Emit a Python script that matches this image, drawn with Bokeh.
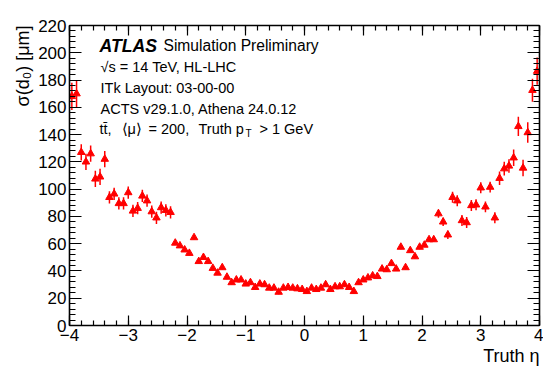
import numpy as np
from bokeh.plotting import figure
from bokeh.models import (ColumnDataSource, Range1d, FixedTicker, LinearAxis, Label,
                          CustomLabelingPolicy, Title)
from bokeh.embed import file_html
from bokeh.resources import INLINE

# ---- data -----------------------------------------------------------------
bin_low = -4.0
bin_width = 0.08
n_bins = 100
eta = [round(bin_low + bin_width * (i + 0.5), 3) for i in range(n_bins)]

sigma_d0 = [168, 170, 127, 120, 126, 107.5, 109, 122, 94, 96.5,
            89.5, 89.5, 97.5, 84, 86, 95, 91.5, 83.5, 79, 86.5,
            84.5, 83, 60.5, 58.5, 55.5, 53, 64.5, 47, 50, 47,
            42, 38.5, 42.5, 35.5, 31.5, 33.5, 33.5, 30.5, 31.5, 28,
            30.5, 30, 27.5, 27.5, 24.5, 27.5, 28, 27.5, 27, 26.5,
            25, 27.5, 26.5, 27.5, 30, 26.5, 28.5, 28.5, 30, 28,
            25, 31.5, 33.5, 35, 36.5, 36, 41.5, 41, 45.5, 41.5,
            57.5, 42.5, 55, 50.5, 57.5, 59, 63, 63, 82, 76,
            66.5, 94, 91.5, 77, 75.5, 88, 88.5, 101, 87, 101.5,
            79, 108, 115, 117, 123, 146, 115.5, 141.5, 172.5, 186.5]

sigma_err = [10, 10, 6, 6, 6, 6, 6, 6, 4.5, 4.5,
             4.5, 4.5, 4.5, 4.5, 4.5, 4.5, 4.5, 4.5, 4.5, 4.5,
             4.5, 4.5, 1.5, 1.5, 1.5, 1.5, 1.5, 1.5, 1.5, 1.5,
             1.5, 1.5, 1.5, 1.5, 1.5, 1.5, 1.5, 1.5, 1.5, 1.5,
             1.5, 1.5, 1.5, 1.5, 1.5, 1.5, 1.5, 1.5, 1.5, 1.5,
             1.5, 1.5, 1.5, 1.5, 1.5, 1.5, 1.5, 1.5, 1.5, 1.5,
             1.5, 1.5, 1.5, 1.5, 1.5, 1.5, 1.5, 1.5, 1.5, 1.5,
             1.5, 1.5, 1.5, 1.5, 1.5, 1.5, 1.5, 1.5, 3, 3,
             3, 4, 4, 4, 4, 4, 4, 4, 4, 4,
             4, 5, 5, 5, 6, 7, 6, 7.5, 8.5, 10]

x_ticks = [-4, -3, -2, -1, 0, 1, 2, 3, 4]
x_tick_labels = ["\u22124", "\u22123", "\u22122", "\u22121", "0", "1", "2", "3", "4"]
x_minor = [round(-4 + 0.2 * k, 2) for k in range(41)]
y_ticks = [0, 20, 40, 60, 80, 100, 120, 140, 160, 180, 200, 220]
y_minor = list(range(0, 221, 4))

x_title = "Truth \u03b7"
y_title = "\u03c3(d\u2080) [\u03bcm]"
atlas = "ATLAS"
atlas_sub = "Simulation Preliminary"
info_lines = ["\u221as = 14 TeV, HL-LHC",
              "ITk Layout: 03-00-00",
              "ACTS v29.1.0, Athena 24.0.12"]
last_pieces = ["tt\u0304,", "\u27e8\u03bc\u27e9", "= 200,", "Truth p", "T", "> 1 GeV"]

# ---- figure ---------------------------------------------------------------
FONT = "Liberation Sans"
W, H = 543, 380
FL, FR, FT, FB = 69, 539, 25, 325   # frame edges in page pixels
p = figure(width=W, height=H, output_backend="svg", toolbar_location=None,
           x_range=Range1d(-4, 4), y_range=Range1d(0, 220),
           min_border_left=FL, min_border_right=W - FR, min_border_top=FT,
           min_border_bottom=H - FB)
p.xgrid.visible = False
p.ygrid.visible = False
p.outline_line_color = None
p.background_fill_color = "white"
p.border_fill_color = "white"

xt = FixedTicker(ticks=x_ticks, minor_ticks=x_minor)
yt = FixedTicker(ticks=y_ticks, minor_ticks=y_minor)

def style(ax, show_labels):
    ax.axis_line_color = "black"
    ax.axis_line_width = 1.6
    ax.major_tick_line_color = "black"
    ax.minor_tick_line_color = "black"
    ax.major_tick_line_width = 1.2
    ax.minor_tick_line_width = 1.2
    ax.major_tick_out = 0
    ax.minor_tick_out = 0
    ax.major_label_text_font = FONT
    ax.major_label_text_color = "black"
    if show_labels:
        ax.major_label_text_font_size = "17px"
        ax.major_label_standoff = 3
    else:
        ax.major_label_text_font_size = "0px"
        ax.major_label_standoff = 0
        ax.major_label_policy = CustomLabelingPolicy(code="return []")

bx = p.xaxis[0]
bx.ticker = xt
bx.major_label_overrides = {t: l for t, l in zip(x_ticks, x_tick_labels)}
style(bx, True)
bx.major_tick_in = 10
bx.minor_tick_in = 5

ly = p.yaxis[0]
ly.ticker = yt
style(ly, True)
ly.major_tick_in = 12
ly.minor_tick_in = 6

tx = LinearAxis(ticker=xt)
style(tx, False)
tx.major_tick_in = 10
tx.minor_tick_in = 5
p.add_layout(tx, "above")

ry = LinearAxis(ticker=yt)
style(ry, False)
ry.major_tick_in = 12
ry.minor_tick_in = 6
p.add_layout(ry, "right")

# axis titles as side titles, aligned to the frame end as in ROOT
p.add_layout(Title(text=x_title, align="right", text_font=FONT,
                   text_font_size="18px", text_font_style="normal",
                   text_color="black", standoff=0, offset=0), "below")
p.add_layout(Title(text=y_title, align="right", text_font=FONT,
                   text_font_size="18px", text_font_style="normal",
                   text_color="black", standoff=6, offset=0), "left")

# ---- data glyphs ------------------------------------------------------------
lo = [v - e for v, e in zip(sigma_d0, sigma_err)]
hi = [v + e for v, e in zip(sigma_d0, sigma_err)]
src = ColumnDataSource(dict(eta=eta, sig=sigma_d0, lo=lo, hi=hi))
p.segment(x0="eta", y0="lo", x1="eta", y1="hi", source=src,
          line_color="#ff0000", line_width=1.5)
p.scatter(x="eta", y="sig", source=src, marker="triangle", size=7.5,
          fill_color="#ff0000", line_color="#ff0000")

# ---- text -------------------------------------------------------------------
def px2x(px):
    return -4 + 8 * (px - FL) / (FR - FL)

def px2y(py):
    return 220 * (FB - py) / (FB - FT)

def lab(text, px, py, size, style_="normal", align="left", angle=0, baseline="middle"):
    p.add_layout(Label(x=px2x(px), y=px2y(py), text=text, text_font=FONT,
                       text_font_size=size, text_font_style=style_,
                       text_align=align, text_baseline=baseline, angle=angle,
                       text_color="black"))

lab(atlas, 99, 45, "17.7px", "bold italic")
lab(atlas_sub, 163, 45, "15.6px")
for k, t in enumerate(info_lines):
    lab(t, 100, 66 + 21 * k, "14.5px")
lab(last_pieces[0], 99, 128, "14.5px")
lab(last_pieces[1], 121, 128, "14.5px")
lab(last_pieces[2], 148, 128, "14.5px")
lab(last_pieces[3], 198, 128, "14.5px")
lab(last_pieces[4], 245, 133, "10px")
lab(last_pieces[5], 259, 128, "14.5px")

open("out.html", "w").write(file_html(p, INLINE))
